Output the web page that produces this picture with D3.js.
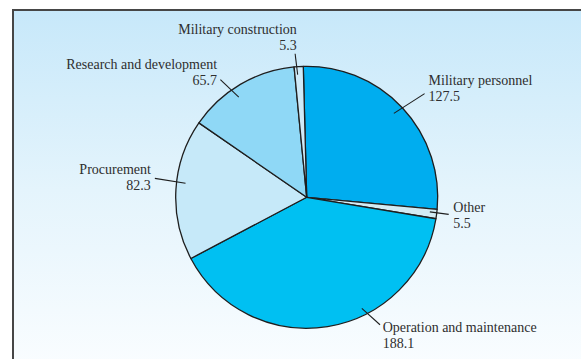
<!DOCTYPE html>
<html>
<head>
<meta charset="utf-8">
<script src="https://cdn.jsdelivr.net/npm/d3@7"></script>
<style>
  html, body { margin: 0; padding: 0; background: #ffffff; }
  svg { display: block; }
  text { font-family: "Liberation Serif", "Times New Roman", serif; font-size: 14px; fill: #2e2e2e; }
</style>
</head>
<body>
<script>
// Defense outlays by category (billions of dollars)
const categories = ["Military personnel", "Other", "Operation and maintenance",
                    "Procurement", "Research and development", "Military construction"];
const outlays = [127.5, 5.5, 188.1, 82.3, 65.7, 5.3];
const sliceColors = ["#00adef", "#d3ebf4", "#00c0f2", "#c6e9f9", "#8fd8f6", "#cfeaf8"];

// Leader-line and label placement for each slice (angles in degrees, offsets from slice middle)
const leaderLayout = [
  { a1: -0.8, r1: 121, a2: 1.8,   r2: 157, anchor: "start", dx: 4,   dy1: -9,   dy2: 7.4 },
  { a1: -0.6, r1: 124, a2: -0.5,  r2: 143, anchor: "start", dx: 4.7, dy1: -2.6, dy2: 13.4 },
  { a1: -17.2, r1: 124, a2: -20.7, r2: 147, anchor: "start", dx: 2.7, dy1: 7.7, dy2: 23.3 },
  { a1: 3.2,  r1: 122, a2: 3.7,   r2: 153, anchor: "end",   dx: -4,  dy1: -4,   dy2: 11.7 },
  { a1: -3.7, r1: 121, a2: -5.8,  r2: 146, anchor: "end",   dx: -3.3, dy1: -11, dy2: 5 },
  { a1: -0.7, r1: 123, a2: -1.1,  r2: 144, anchor: "end",   dx: 1.7, dy1: -20,  dy2: -4 }
];

const W = 581, H = 359;
const cx = 306.7, cy = 197.3, R = 131;
const rad = Math.PI / 180;

const svg = d3.select("body").append("svg").attr("width", W).attr("height", H);

// Panel background: pale blue fading to white
const defs = svg.append("defs");
const grad = defs.append("linearGradient").attr("id", "panelFill")
  .attr("x1", 0).attr("y1", 0).attr("x2", 0).attr("y2", 1);
grad.append("stop").attr("offset", "0%").attr("stop-color", "#c7e8fa");
grad.append("stop").attr("offset", "50%").attr("stop-color", "#e4f4fc");
grad.append("stop").attr("offset", "100%").attr("stop-color", "#fafdff");

svg.append("rect").attr("x", 13).attr("y", 10).attr("width", W).attr("height", H)
  .attr("fill", "url(#panelFill)");
svg.append("path")
  .attr("d", `M13,${H + 2} L13,10 L${W + 2},10`)
  .attr("fill", "none").attr("stroke", "#464646").attr("stroke-width", 2);

const data = categories.map((c, i) => ({ category: c, value: outlays[i], color: sliceColors[i], layout: leaderLayout[i] }));

const pie = d3.pie().sort(null).value(d => d.value).startAngle(-1.5 * rad).endAngle(358.5 * rad);
const arc = d3.arc().innerRadius(0).outerRadius(R);
const arcs = pie(data);

const g = svg.append("g").attr("transform", `translate(${cx},${cy})`);

g.selectAll("path.slice").data(arcs).join("path")
  .attr("class", "slice")
  .attr("d", arc)
  .attr("fill", d => d.data.color)
  .attr("stroke", "#1e1e1e")
  .attr("stroke-width", 1.3)
  .attr("stroke-linejoin", "round");

// Polar helper: angle measured clockwise from 12 o'clock
const polar = (angle, r) => [Math.sin(angle) * r, -Math.cos(angle) * r];

const fmt = d3.format(".1f");

arcs.forEach(d => {
  const L = d.data.layout;
  const mid = (d.startAngle + d.endAngle) / 2;
  const p1 = polar(mid + L.a1 * rad, L.r1);
  const p2 = polar(mid + L.a2 * rad, L.r2);
  g.append("line")
    .attr("x1", p1[0]).attr("y1", p1[1])
    .attr("x2", p2[0]).attr("y2", p2[1])
    .attr("stroke", "#1e1e1e").attr("stroke-width", 1.1);
  const t = g.append("text").attr("text-anchor", L.anchor);
  t.append("tspan").attr("x", p2[0] + L.dx).attr("y", p2[1] + L.dy1).text(d.data.category);
  t.append("tspan").attr("x", p2[0] + L.dx).attr("y", p2[1] + L.dy2).text(fmt(d.data.value));
});
</script>
</body>
</html>
